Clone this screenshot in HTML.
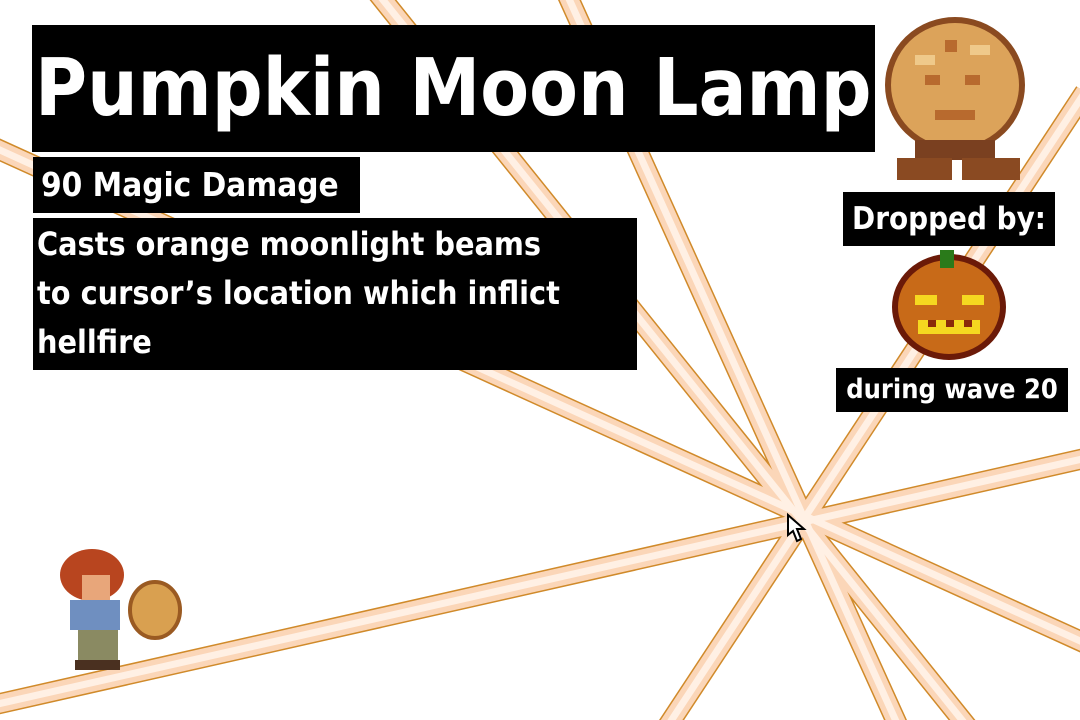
<!DOCTYPE html>
<html><head><meta charset="utf-8"><style>
body{margin:0;width:1080px;height:720px;overflow:hidden;background:#fff;position:relative;font-family:"DejaVu Sans Condensed","DejaVu Sans","Liberation Sans",sans-serif}
.b{position:absolute;background:#000;color:#fff;box-sizing:border-box;white-space:nowrap;overflow:hidden;font-weight:bold}
</style></head><body>
<svg width="1080" height="720" style="position:absolute;left:0;top:0">
<defs><g id="beams">
<line x1="-20" y1="141" x2="1100" y2="650"/>
<line x1="375" y1="-10" x2="970" y2="730"/>
<line x1="565" y1="-10" x2="900" y2="730"/>
<line x1="1085" y1="92" x2="665" y2="730"/>
<line x1="-20" y1="708" x2="1100" y2="455"/>
</g></defs>
<g stroke="#d08a2a" stroke-width="21" fill="none"><use href="#beams"/></g>
<g stroke="#fbd6b8" stroke-width="18" fill="none"><use href="#beams"/></g>
<g stroke="#fff0e4" stroke-width="7" fill="none"><use href="#beams"/></g>
<path d="M788 515 L788 535 L793 531 L797 541 L801 539 L797 529 L804 529 Z" fill="#fff" stroke="#000" stroke-width="2"/>
<ellipse cx="955" cy="85" rx="67" ry="65" fill="#dca35a" stroke="#8a4a20" stroke-width="6"/>
<g fill="#b86a2e"><rect x="925" y="75" width="15" height="10"/><rect x="965" y="75" width="15" height="10"/><rect x="935" y="110" width="40" height="10"/><rect x="945" y="40" width="12" height="12"/></g>
<g fill="#efc98a"><rect x="915" y="55" width="20" height="10"/><rect x="970" y="45" width="20" height="10"/></g>
<rect x="915" y="140" width="80" height="20" fill="#7a4020"/>
<rect x="897" y="158" width="55" height="22" fill="#8a4a22"/><rect x="962" y="158" width="58" height="22" fill="#8a4a22"/>
<ellipse cx="949" cy="307" rx="54" ry="50" fill="#c86a18" stroke="#6b1a08" stroke-width="6"/>
<rect x="940" y="250" width="14" height="18" fill="#2a7a1a"/>
<g fill="#f5d820"><rect x="915" y="295" width="22" height="10"/><rect x="962" y="295" width="22" height="10"/><rect x="918" y="320" width="62" height="14"/></g>
<g fill="#8a2a0a"><rect x="928" y="320" width="8" height="7"/><rect x="946" y="320" width="8" height="7"/><rect x="964" y="320" width="8" height="7"/></g>
<ellipse cx="92" cy="575" rx="32" ry="26" fill="#b8451f"/>
<rect x="82" y="575" width="28" height="28" fill="#e8a67a"/>
<rect x="70" y="600" width="50" height="30" fill="#6f8fc0"/>
<rect x="78" y="630" width="40" height="40" fill="#8a8a62"/>
<rect x="75" y="660" width="45" height="10" fill="#4a3020"/>
<ellipse cx="155" cy="610" rx="25" ry="28" fill="#d9a050" stroke="#9a5a22" stroke-width="4"/>
</svg>
<div class="b" style="left:32px;top:25px;width:843px;height:127px;font-size:79px;line-height:127px;padding-left:3px">Pumpkin Moon Lamp</div>
<div class="b" style="left:33px;top:157px;width:327px;height:56px;font-size:33px;line-height:56px;padding-left:8px">90 Magic Damage</div>
<div class="b" style="left:33px;top:218px;width:604px;height:152px;font-size:32px;line-height:49px;padding:2px 0 0 4px;white-space:normal">Casts orange moonlight beams<br>to cursor’s location which inflict<br>hellfire</div>
<div class="b" style="left:843px;top:192px;width:212px;height:54px;font-size:31px;line-height:54px;text-align:center">Dropped by:</div>
<div class="b" style="left:836px;top:368px;width:232px;height:44px;font-size:27px;line-height:44px;text-align:center">during wave 20</div>
</body></html>
